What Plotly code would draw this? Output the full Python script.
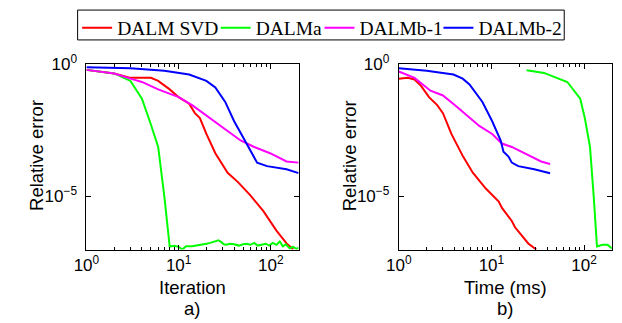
import plotly.graph_objects as go

# ---------------- data: panel a) relative error vs iteration ----------------
it_svd = [1, 2, 3, 4, 5, 6, 8, 10, 13, 15, 17, 20, 25, 34, 44, 60, 83, 115, 148, 175]
err_svd_it = [6.0e-1, 4.4e-1, 3.0e-1, 2.9e-1, 3.0e-1, 2.3e-1, 1.1e-1, 5.6e-2, 3.2e-2, 1.4e-2,
              9.1e-3, 2.3e-3, 4.3e-4, 7.9e-5, 3.5e-5, 1.1e-5, 2.8e-6, 5.2e-7, 1.7e-7, 1.0e-7]

it_a = [1, 2, 3, 4, 5, 6, 7, 8, 9, 10, 11, 12, 14, 16, 18, 20, 22, 25, 27, 29, 31, 33, 36, 40,
        45, 50, 55, 60, 66, 72, 80, 88, 96, 105, 115, 125, 135, 145, 160, 175, 190, 200]
err_a_it = [6.0e-1, 4.4e-1, 2.3e-1, 4.9e-2, 5.2e-3, 7.4e-4, 1.0e-5, 1.3e-7, 1.4e-7, 1.26e-7,
            1.0e-7, 1.32e-7, 1.32e-7, 1.41e-7, 1.58e-7, 1.66e-7, 1.78e-7, 2.0e-7, 2.24e-7, 1.9e-7,
            1.58e-7, 1.51e-7, 1.66e-7, 1.58e-7, 1.41e-7, 1.58e-7, 1.66e-7, 1.51e-7, 1.78e-7, 1.41e-7,
            1.58e-7, 1.66e-7, 1.41e-7, 1.78e-7, 1.51e-7, 2.0e-7, 1.32e-7, 1.58e-7, 1.12e-7, 1.26e-7,
            1.05e-7, 1.2e-7]

it_b1 = [1, 2, 3, 4, 6, 8, 10, 14, 19, 29, 47, 66, 98, 148, 200]
err_b1_it = [6.0e-1, 4.4e-1, 2.8e-1, 2.1e-1, 1.1e-1, 7.4e-2, 5.6e-2, 2.8e-2, 1.3e-2, 4.6e-3,
             1.3e-3, 7.4e-4, 4.3e-4, 2.1e-4, 1.9e-4]

it_b2 = [1, 3, 7, 10, 13, 20, 25, 32, 40, 51, 57, 60, 65, 71, 91, 148, 200]
err_b2_it = [7.6e-1, 6.9e-1, 5.6e-1, 4.7e-1, 4.0e-1, 2.3e-1, 1.3e-1, 3.7e-2, 6.9e-3, 1.5e-3,
             7.4e-4, 4.9e-4, 3.2e-4, 1.9e-4, 1.4e-4, 1.07e-4, 7.6e-5]

# ---------------- data: panel b) relative error vs time (ms) ----------------
t_svd = [1.0, 1.25, 1.48, 1.74, 2.12, 2.6, 3.0, 3.7, 4.95, 6.3, 8.7, 12, 13, 16.6, 18, 25, 30.5]
err_svd_t = [2.8e-1, 3.0e-1, 2.6e-1, 1.5e-1, 5.6e-2, 2.8e-2, 1.4e-2, 2.3e-3, 3.2e-4, 7.9e-5,
             2.0e-5, 6.5e-6, 3.7e-6, 1.2e-6, 6.9e-7, 1.7e-7, 1.0e-7]

t_a = [24, 37, 66, 91, 102, 116, 127, 138, 158, 180, 200]
err_a_t = [5.8e-1, 4.6e-1, 2.1e-1, 4.9e-2, 9.1e-3, 7.4e-4, 1.1e-5, 1.3e-7, 1.5e-7, 1.5e-7, 1.1e-7]

t_b1 = [1.0, 1.48, 2.2, 3.0, 4.2, 5.8, 7.4, 10.2, 13, 16.6, 21, 27, 34.4, 43]
err_b1_t = [5.2e-1, 3.0e-1, 9.8e-2, 6.5e-2, 2.5e-2, 9.1e-3, 4.6e-3, 2.3e-3, 1.0e-3, 7.4e-4,
            4.9e-4, 3.2e-4, 2.1e-4, 1.7e-4]

t_b2 = [1.0, 2.0, 3.9, 4.9, 5.8, 8.0, 10.2, 12.6, 13.5, 15.3, 16.6, 19.5, 29, 43]
err_b2_t = [6.9e-1, 5.6e-1, 4.0e-1, 2.8e-1, 1.7e-1, 3.7e-2, 6.9e-3, 1.3e-3, 4.9e-4, 3.2e-4,
            1.9e-4, 1.4e-4, 1.07e-4, 7.6e-5]

names = ["DALM SVD", "DALMa", "DALMb-1", "DALMb-2"]
colors = ["#ff0000", "#00ff00", "#ff00ff", "#0000ff"]

x_tickvals = [1, 10, 100]
x_ticktext = ["10<sup>0</sup>", "10<sup>1</sup>", "10<sup>2</sup>"]
x_minor = [2, 3, 4, 5, 6, 7, 8, 9, 20, 30, 40, 50, 60, 70, 80, 90, 200]
y_tickvals = [1e-5, 1e0]
y_ticktext = ["10<sup>−5</sup>", "10<sup>0</sup>"]

panel_a = [(it_svd, err_svd_it), (it_a, err_a_it), (it_b1, err_b1_it), (it_b2, err_b2_it)]
panel_b = [(t_svd, err_svd_t), (t_a, err_a_t), (t_b1, err_b1_t), (t_b2, err_b2_t)]

legend_ids = ["legend", "legend2", "legend3", "legend4"]

fig = go.Figure()
for i, (x, y) in enumerate(panel_a):
    fig.add_trace(go.Scatter(x=x, y=y, mode="lines", name=names[i],
                             line=dict(color=colors[i], width=2),
                             xaxis="x", yaxis="y", showlegend=True, legend=legend_ids[i]))
for i, (x, y) in enumerate(panel_b):
    fig.add_trace(go.Scatter(x=x, y=y, mode="lines", name=names[i],
                             line=dict(color=colors[i], width=2),
                             xaxis="x2", yaxis="y2", showlegend=False))

W, H = 622, 323
tick_font = dict(family="Liberation Sans, Arial, sans-serif", size=17, color="black")
title_font = dict(family="Liberation Sans, Arial, sans-serif", size=18.5, color="black")
legend_font = dict(family="Liberation Serif, Times New Roman, serif", size=19.5, color="black")

def xax(domain, anchor):
    return dict(type="log", domain=domain, anchor=anchor, range=[0, 2.30103],
                showline=True, linecolor="black", linewidth=1, mirror="ticks",
                ticks="inside", ticklen=5, tickcolor="black",
                tickvals=x_tickvals, ticktext=x_ticktext, tickfont=tick_font,
                showgrid=False, zeroline=False,
                minor=dict(ticks="inside", ticklen=3, tickcolor="black", tickvals=x_minor, showgrid=False))

def yax(anchor):
    return dict(type="log", domain=[(H - 246.7) / H, (H - 54) / H], anchor=anchor, range=[-7, 0],
                showline=True, linecolor="black", linewidth=1, mirror="ticks",
                ticks="inside", ticklen=5, tickcolor="black", ticklabelstandoff=5,
                tickvals=y_tickvals, ticktext=y_ticktext, tickfont=tick_font,
                showgrid=False, zeroline=False)

legend_x = [65.5, 207, 313, 434.5]
legends = {}
for lid, lx in zip(legend_ids, legend_x):
    legends[lid] = dict(orientation="h", x=lx / W, y=1 + 3.5 / H, xanchor="left", yanchor="top",
                        borderwidth=0, bgcolor="rgba(0,0,0,0)", font=legend_font,
                        itemwidth=30, itemclick=False, itemdoubleclick=False)

fig.update_layout(
    width=W, height=H,
    margin=dict(l=0, r=0, t=0, b=0),
    paper_bgcolor="white", plot_bgcolor="white",
    xaxis=xax([75 / W, 291.7 / W], "y"),
    yaxis=yax("x"),
    xaxis2=xax([394 / W, 611.7 / W], "y2"),
    yaxis2=yax("x2"),
    showlegend=True,
    **legends,
)

# legend frame (top edge lies just outside the picture, as in the original)
fig.add_shape(type="rect", xref="paper", yref="paper",
              x0=66 / W, x1=563 / W, y0=(H - 29) / H, y1=1 + 2 / H,
              line=dict(color="black", width=1), fillcolor="rgba(0,0,0,0)", layer="below")

annots = [
    dict(text="Relative error", x=24 / W, y=(H - 149) / H, textangle=-90, font=title_font),
    dict(text="Relative error", x=344 / W, y=(H - 149) / H, textangle=-90, font=title_font),
    dict(text="Iteration", x=183 / W, y=(H - 286) / H, font=title_font),
    dict(text="a)", x=183 / W, y=(H - 308) / H, font=title_font),
    dict(text="Time (ms)", x=503 / W, y=(H - 286) / H, font=title_font),
    dict(text="b)", x=503 / W, y=(H - 308) / H, font=title_font),
]
for a in annots:
    fig.add_annotation(xref="paper", yref="paper", showarrow=False,
                       xanchor="center", yanchor="middle", **a)

fig.write_html("out.html", config={"displayModeBar": False},
               post_script="document.body.style.margin='0';document.body.style.overflow='hidden';")
